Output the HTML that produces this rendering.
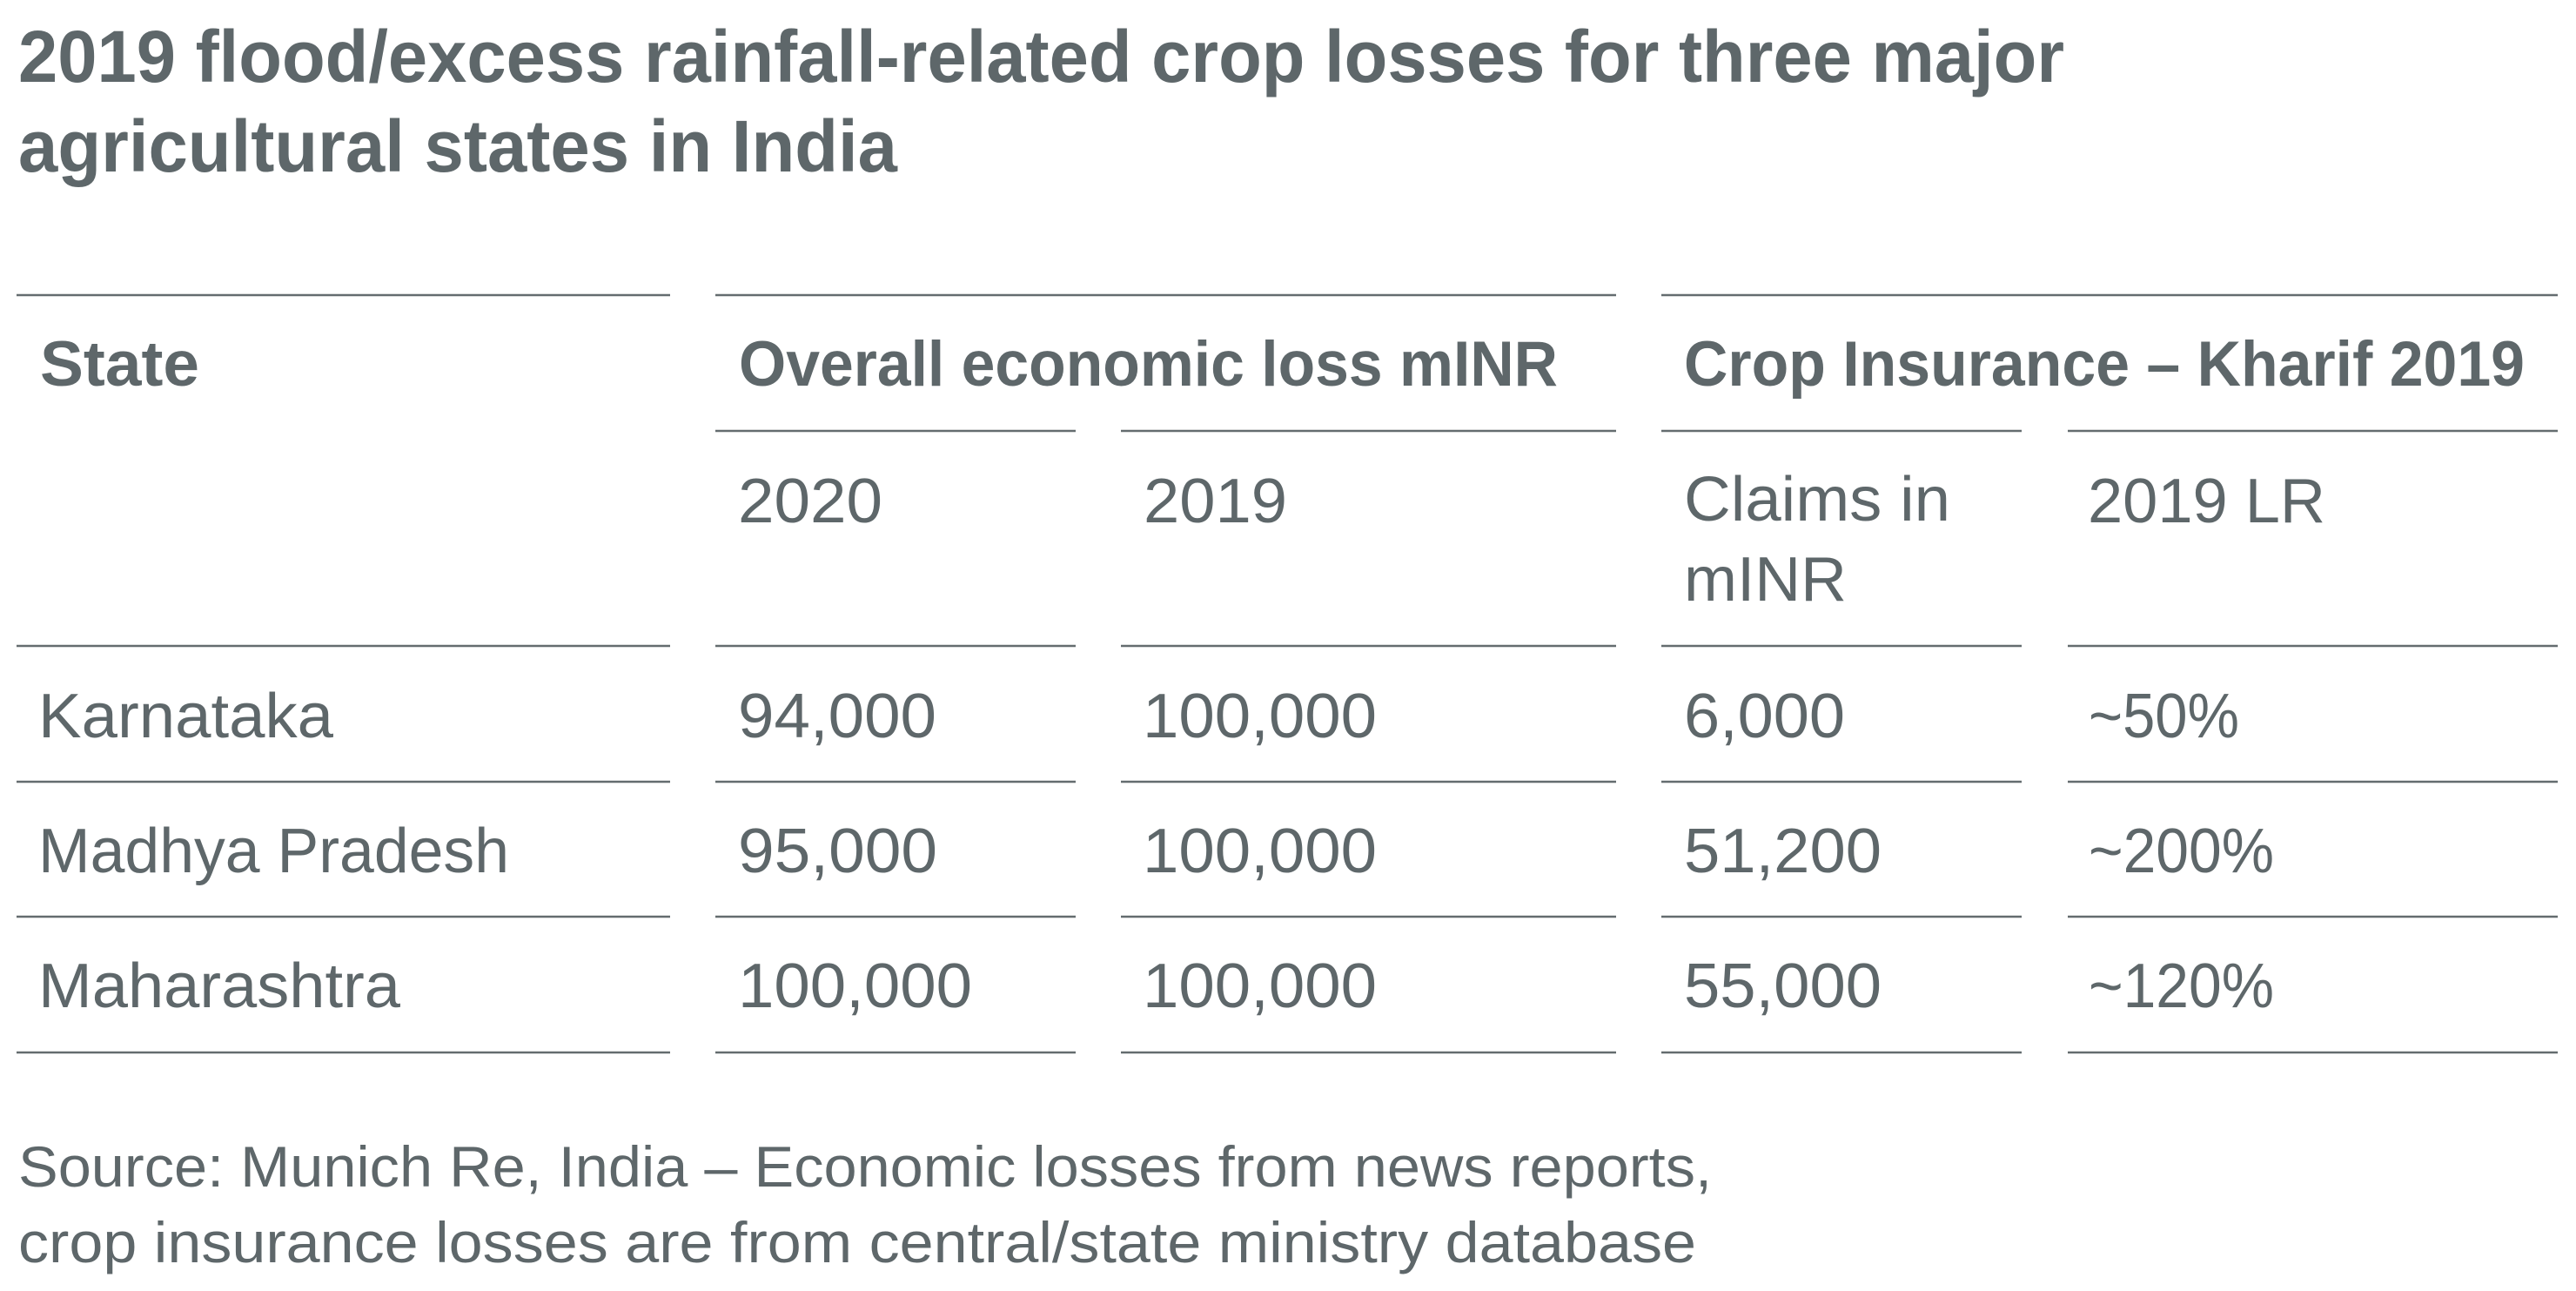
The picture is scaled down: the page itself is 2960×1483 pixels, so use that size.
<!DOCTYPE html>
<html>
<head>
<meta charset="utf-8">
<style>
  html, body { margin: 0; padding: 0; background: #ffffff; }
  body { width: 2960px; height: 1483px; overflow: hidden; }
  svg { display: block; }
  text { font-family: "Liberation Sans", "DejaVu Sans", sans-serif; fill: #5e676a; }
  .t { font-weight: bold; font-size: 84px; }
  .h { font-weight: bold; font-size: 73px; }
  .b { font-size: 72px; }
  .s { font-size: 66px; }
  line { stroke: #646c6f; stroke-width: 2.6; }
</style>
</head>
<body>
<svg width="2960" height="1483" viewBox="0 0 2960 1483" xmlns="http://www.w3.org/2000/svg">
  <!-- Title -->
  <text class="t" x="21" y="94" textLength="2351" lengthAdjust="spacingAndGlyphs">2019 flood/excess rainfall-related crop losses for three major</text>
  <text class="t" x="21" y="197" textLength="1010" lengthAdjust="spacingAndGlyphs">agricultural states in India</text>

  <!-- Top lines -->
  <line x1="19" y1="339" x2="770" y2="339"/>
  <line x1="822" y1="339" x2="1857" y2="339"/>
  <line x1="1909" y1="339" x2="2939" y2="339"/>

  <!-- Group headers -->
  <text class="h" x="46" y="443" textLength="183" lengthAdjust="spacingAndGlyphs">State</text>
  <text class="h" x="849" y="443" textLength="941" lengthAdjust="spacingAndGlyphs">Overall economic loss mINR</text>
  <text class="h" x="1935" y="443" textLength="966" lengthAdjust="spacingAndGlyphs">Crop Insurance – Kharif 2019</text>

  <!-- Sub lines -->
  <line x1="822" y1="495" x2="1236" y2="495"/>
  <line x1="1288" y1="495" x2="1857" y2="495"/>
  <line x1="1909" y1="495" x2="2323" y2="495"/>
  <line x1="2376" y1="495" x2="2939" y2="495"/>

  <!-- Sub headers -->
  <text class="b" x="848" y="600" textLength="166" lengthAdjust="spacingAndGlyphs">2020</text>
  <text class="b" x="1314" y="600" textLength="165" lengthAdjust="spacingAndGlyphs">2019</text>
  <text class="b" x="1935" y="598" textLength="306" lengthAdjust="spacingAndGlyphs">Claims in</text>
  <text class="b" x="1935" y="690" textLength="187" lengthAdjust="spacingAndGlyphs">mINR</text>
  <text class="b" x="2399" y="600" textLength="273" lengthAdjust="spacingAndGlyphs">2019 LR</text>

  <!-- Row lines -->
  <g>
    <line x1="19" y1="742" x2="770" y2="742"/>
    <line x1="822" y1="742" x2="1236" y2="742"/>
    <line x1="1288" y1="742" x2="1857" y2="742"/>
    <line x1="1909" y1="742" x2="2323" y2="742"/>
    <line x1="2376" y1="742" x2="2939" y2="742"/>

    <line x1="19" y1="898" x2="770" y2="898"/>
    <line x1="822" y1="898" x2="1236" y2="898"/>
    <line x1="1288" y1="898" x2="1857" y2="898"/>
    <line x1="1909" y1="898" x2="2323" y2="898"/>
    <line x1="2376" y1="898" x2="2939" y2="898"/>

    <line x1="19" y1="1053" x2="770" y2="1053"/>
    <line x1="822" y1="1053" x2="1236" y2="1053"/>
    <line x1="1288" y1="1053" x2="1857" y2="1053"/>
    <line x1="1909" y1="1053" x2="2323" y2="1053"/>
    <line x1="2376" y1="1053" x2="2939" y2="1053"/>

    <line x1="19" y1="1209" x2="770" y2="1209"/>
    <line x1="822" y1="1209" x2="1236" y2="1209"/>
    <line x1="1288" y1="1209" x2="1857" y2="1209"/>
    <line x1="1909" y1="1209" x2="2323" y2="1209"/>
    <line x1="2376" y1="1209" x2="2939" y2="1209"/>
  </g>

  <!-- Row 1 -->
  <text class="b" x="44" y="847" textLength="339" lengthAdjust="spacingAndGlyphs">Karnataka</text>
  <text class="b" x="848" y="847" textLength="228" lengthAdjust="spacingAndGlyphs">94,000</text>
  <text class="b" x="1313" y="847" textLength="269" lengthAdjust="spacingAndGlyphs">100,000</text>
  <text class="b" x="1935" y="847" textLength="185" lengthAdjust="spacingAndGlyphs">6,000</text>
  <text class="b" x="2400" y="847" textLength="173" lengthAdjust="spacingAndGlyphs">~50%</text>

  <!-- Row 2 -->
  <text class="b" x="44" y="1002" textLength="541" lengthAdjust="spacingAndGlyphs">Madhya Pradesh</text>
  <text class="b" x="848" y="1002" textLength="229" lengthAdjust="spacingAndGlyphs">95,000</text>
  <text class="b" x="1313" y="1002" textLength="269" lengthAdjust="spacingAndGlyphs">100,000</text>
  <text class="b" x="1935" y="1002" textLength="227" lengthAdjust="spacingAndGlyphs">51,200</text>
  <text class="b" x="2400" y="1002" textLength="213" lengthAdjust="spacingAndGlyphs">~200%</text>

  <!-- Row 3 -->
  <text class="b" x="44" y="1157" textLength="416" lengthAdjust="spacingAndGlyphs">Maharashtra</text>
  <text class="b" x="848" y="1157" textLength="269" lengthAdjust="spacingAndGlyphs">100,000</text>
  <text class="b" x="1313" y="1157" textLength="269" lengthAdjust="spacingAndGlyphs">100,000</text>
  <text class="b" x="1935" y="1157" textLength="227" lengthAdjust="spacingAndGlyphs">55,000</text>
  <text class="b" x="2400" y="1157" textLength="213" lengthAdjust="spacingAndGlyphs">~120%</text>

  <!-- Source -->
  <text class="s" x="21" y="1363" textLength="1946" lengthAdjust="spacingAndGlyphs">Source: Munich Re, India – Economic losses from news reports,</text>
  <text class="s" x="21" y="1450" textLength="1928" lengthAdjust="spacingAndGlyphs">crop insurance losses are from central/state ministry database</text>
</svg>
</body>
</html>
